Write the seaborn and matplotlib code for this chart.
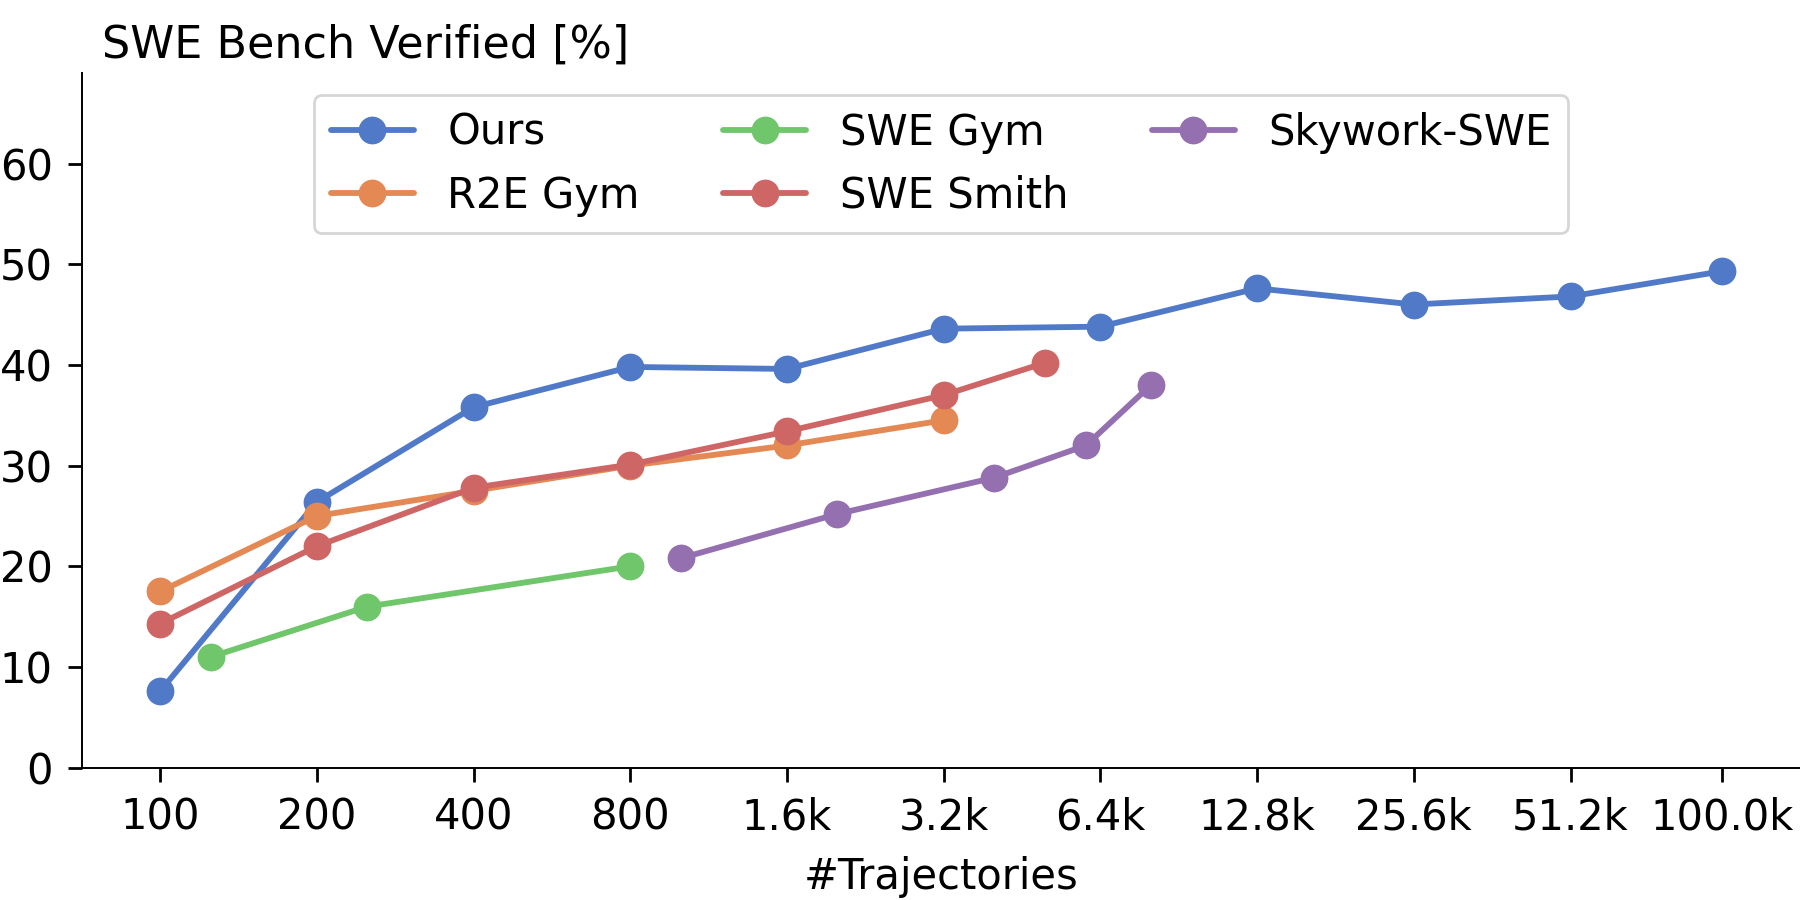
import seaborn as sns
import pandas as pd
import matplotlib.pyplot as plt
from matplotlib.ticker import NullLocator

# values
ours_x = [100, 200, 400, 800, 1600, 3200, 6400, 12800, 25600, 51200, 100000]
ours_y = [7.6, 26.4, 35.8, 39.8, 39.6, 43.6, 43.8, 47.6, 46.0, 46.8, 49.3]
r2e_x = [100, 200, 400, 800, 1600, 3200]
r2e_y = [17.5, 25.0, 27.5, 30.0, 32.0, 34.5]
swegym_x = [125, 250, 800]
swegym_y = [11.0, 16.0, 20.0]
smith_x = [100, 200, 400, 800, 1600, 3200, 5000]
smith_y = [14.3, 22.0, 27.8, 30.1, 33.4, 37.0, 40.2]
skywork_x = [1000, 2000, 4000, 6000, 8000]
skywork_y = [20.8, 25.2, 28.8, 32.0, 38.0]

names = ['Ours', 'R2E Gym', 'SWE Gym', 'SWE Smith', 'Skywork-SWE']
tick_vals = [100, 200, 400, 800, 1600, 3200, 6400, 12800, 25600, 51200, 100000]
tick_labels = ['100', '200', '400', '800', '1.6k', '3.2k', '6.4k',
               '12.8k', '25.6k', '51.2k', '100.0k']

# long form table for seaborn
rows = []
for name, xs, ys in zip(names,
                        [ours_x, r2e_x, swegym_x, smith_x, skywork_x],
                        [ours_y, r2e_y, swegym_y, smith_y, skywork_y]):
    for x, y in zip(xs, ys):
        rows.append({'method': name, 'n': x, 'score': y})
df = pd.DataFrame(rows)

sns.set_theme(style='ticks', rc={'axes.edgecolor': 'black', 'text.color': 'black',
                                 'xtick.color': 'black', 'ytick.color': 'black',
                                 'axes.labelcolor': 'black'})
plt.rcParams['font.family'] = ['DejaVu Sans']

fig = plt.figure(figsize=(9, 4.5), dpi=200)
ax = fig.add_subplot(1, 1, 1)
fig.subplots_adjust(left=0.0456, right=1.0, bottom=0.147, top=0.919)

pal = sns.color_palette('muted', 5, desat=0.88)
sns.lineplot(data=df, x='n', y='score', hue='method', hue_order=names,
             palette=pal, marker='o', markersize=10, markeredgewidth=0,
             linewidth=2.1, ax=ax)

ax.set_xscale('log', base=2)
ax.set_xticks(tick_vals)
ax.set_xticklabels(tick_labels)
ax.xaxis.set_minor_locator(NullLocator())
ax.set_ylim(0, 69)
ax.set_yticks([0, 10, 20, 30, 40, 50, 60])
ax.tick_params(axis='both', labelsize=15, length=5, width=1.0, pad=5.5)
for s in ['left', 'bottom']:
    ax.spines[s].set_linewidth(0.7)
sns.despine(ax=ax)

ax.set_xlabel('#Trajectories', fontsize=15, labelpad=6)
ax.set_ylabel('')
ax.text(0.0116, 1.0216, 'SWE Bench Verified [%]', transform=ax.transAxes,
        fontsize=16, va='baseline', ha='left')

handles, labels = ax.get_legend_handles_labels()
ax.legend(handles, labels, ncol=3, fontsize=15, loc='upper left',
          bbox_to_anchor=(0.135, 0.968), borderaxespad=0, frameon=True)

fig.savefig('out.png', dpi=200)
